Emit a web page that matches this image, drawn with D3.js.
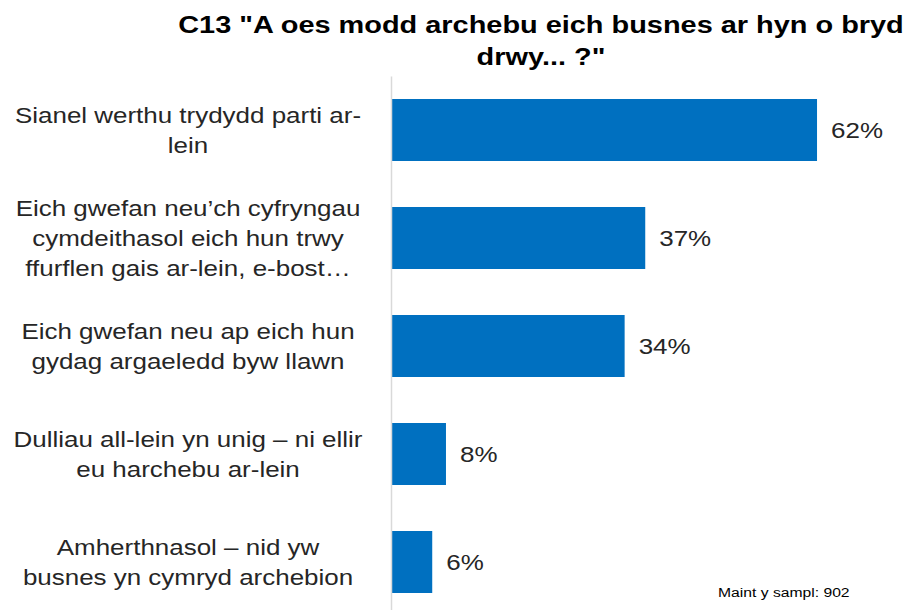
<!DOCTYPE html>
<html>
<head>
<meta charset="utf-8">
<script src="https://cdn.jsdelivr.net/npm/d3@7"></script>
<style>
  html, body { margin: 0; padding: 0; background: #fff; }
  svg { display: block; font-family: "Liberation Sans", Arial, sans-serif; }
</style>
</head>
<body>
<svg id="chart" width="916" height="610"></svg>
<script>
// Survey categories (each entry is the wrapped label lines)
const categories = [
  ["Sianel werthu trydydd parti ar-", "lein"],
  ["Eich gwefan neu\u2019ch cyfryngau", "cymdeithasol eich hun trwy", "ffurflen gais ar-lein, e-bost\u2026"],
  ["Eich gwefan neu ap eich hun", "gydag argaeledd byw llawn"],
  ["Dulliau all-lein yn unig \u2013 ni ellir", "eu harchebu ar-lein"],
  ["Amherthnasol \u2013 nid yw", "busnes yn cymryd archebion"]
];
// Share of businesses (%)
const values = [62, 37, 34, 8, 6];
const titleLines = ["C13 \"A oes modd archebu eich busnes ar hyn o bryd", "drwy... ?\""];
const sampleNote = "Maint y sampl: 902";

const svg = d3.select("#chart");
const ids = d3.range(values.length);

// Text in this chart is set slightly wide
const stretch = 1.18;

const x = d3.scaleLinear().domain([0, 70]).range([391, 872]);
const y = d3.scaleBand().domain(ids).range([76, 616]).paddingInner(0.426).paddingOuter(0.213);

function wideText(parent, px, py) {
  return parent.append("text")
    .attr("transform", `translate(${px},${py}) scale(${stretch},1)`);
}

// Title
titleLines.forEach((t, k) => {
  wideText(svg, 541, 33 + k * 32)
    .attr("text-anchor", "middle")
    .attr("font-size", 24.5).attr("font-weight", "bold").attr("fill", "#000")
    .text(t);
});

// Bars
svg.append("g").selectAll("rect").data(ids).join("rect")
  .attr("x", x(0))
  .attr("y", i => y(i))
  .attr("width", i => x(values[i]) - x(0))
  .attr("height", y.bandwidth())
  .attr("fill", "#0070C0");

// Value labels
const valG = svg.append("g");
ids.forEach(i => {
  wideText(valG, x(values[i]) + 14, y(i) + y.bandwidth() / 2)
    .attr("dy", "0.36em")
    .attr("font-size", 22).attr("fill", "#262626")
    .text(values[i] + "%");
});

// Category axis (line only, labels drawn as wrapped text)
const axis = svg.append("g")
  .attr("transform", `translate(${x(0)},0)`)
  .call(d3.axisLeft(y).tickSize(0).tickFormat(""));
axis.select(".domain").attr("stroke", "#d9d9d9").attr("stroke-width", 1.5);

const lineH = 30;
const labG = svg.append("g");
ids.forEach(i => {
  const lines = categories[i];
  const cy = y(i) + y.bandwidth() / 2;
  lines.forEach((ln, k) => {
    wideText(labG, 188, cy + (k - (lines.length - 1) / 2) * lineH)
      .attr("dy", "0.36em")
      .attr("text-anchor", "middle")
      .attr("font-size", 22).attr("fill", "#262626")
      .text(ln);
  });
});

// Sample size note
wideText(svg, 718, 597)
  .attr("font-size", 13.3).attr("fill", "#000")
  .text(sampleNote);
</script>
</body>
</html>
